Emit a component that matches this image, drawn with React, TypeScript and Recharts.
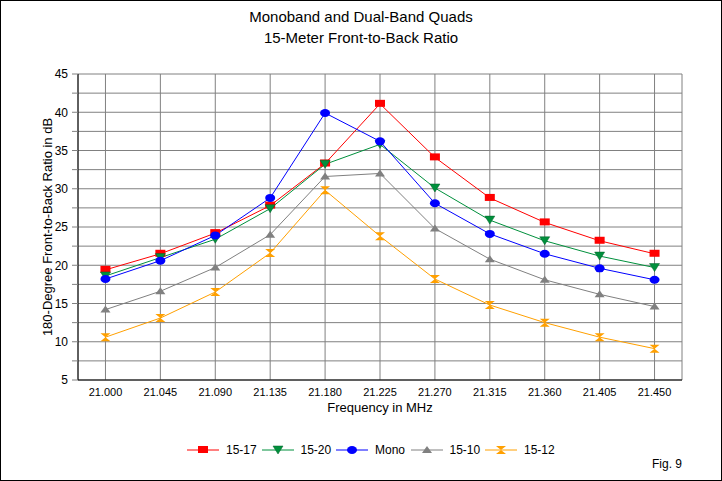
import React from 'react';
import { ComposedChart, Line, XAxis, YAxis, CartesianGrid } from 'recharts';

const frequencies = ['21.000', '21.045', '21.090', '21.135', '21.180', '21.225', '21.270', '21.315', '21.360', '21.405', '21.450'];

const quad1517 = [19.4, 21.5, 24.2, 27.8, 33.3, 41.1, 34.1, 28.8, 25.6, 23.2, 21.5];
const quad1520 = [18.6, 21.0, 23.4, 27.4, 33.2, 35.8, 30.1, 25.9, 23.2, 21.2, 19.7];
const mono = [18.2, 20.6, 23.9, 28.8, 39.9, 36.2, 28.1, 24.1, 21.5, 19.6, 18.1];
const quad1510 = [14.2, 16.6, 19.7, 24.0, 31.6, 32.0, 24.8, 20.8, 18.1, 16.2, 14.6];
const quad1512 = [10.6, 13.1, 16.5, 21.6, 29.8, 23.8, 18.2, 14.8, 12.5, 10.6, 9.1];

const yTicks = [5, 7.5, 10, 12.5, 15, 17.5, 20, 22.5, 25, 27.5, 30, 32.5, 35, 37.5, 40, 42.5, 45];

const series = [
  { key: 'q1517', name: '15-17', values: quad1517, color: '#ff0000', shape: 'square' },
  { key: 'q1520', name: '15-20', values: quad1520, color: '#00903c', shape: 'down' },
  { key: 'mono', name: 'Mono', values: mono, color: '#0000ff', shape: 'circle' },
  { key: 'q1510', name: '15-10', values: quad1510, color: '#808080', shape: 'up' },
  { key: 'q1512', name: '15-12', values: quad1512, color: '#ffa000', shape: 'hourglass' },
];

const data = frequencies.map((freq, i) => {
  const row: any = { freq };
  series.forEach((s) => { row[s.key] = s.values[i]; });
  return row;
});

const FONT = '"Liberation Sans", Arial, sans-serif';

const Marker = ({ cx, cy, shape, color }: any) => {
  if (cx == null || cy == null) return null;
  switch (shape) {
    case 'square':
      return <rect x={cx - 5} y={cy - 4} width={10} height={7} fill={color} />;
    case 'down':
      return <polygon points={`${cx - 5},${cy - 4} ${cx + 5},${cy - 4} ${cx},${cy + 4}`} fill={color} stroke="#006028" strokeWidth={0.5} />;
    case 'circle':
      return <ellipse cx={cx} cy={cy} rx={5} ry={4} fill={color} />;
    case 'up':
      return <polygon points={`${cx - 5},${cy + 3} ${cx + 5},${cy + 3} ${cx},${cy - 4}`} fill={color} />;
    default:
      return (
        <polygon
          points={`${cx - 5},${cy - 4} ${cx + 5},${cy - 4} ${cx},${cy} ${cx + 5},${cy + 4} ${cx - 5},${cy + 4} ${cx},${cy}`}
          fill={color}
        />
      );
  }
};

export default function App() {
  return (
    <div style={{ position: 'absolute', left: 0, top: 0, width: 722, height: 481, background: '#fff', fontFamily: FONT }}>
      <ComposedChart width={722} height={481} data={data} margin={{ top: 74, right: 40, bottom: 0, left: 0 }}>
        <CartesianGrid stroke="#808080" />
        <XAxis
          dataKey="freq"
          scale="band"
          height={101}
          tickLine={false}
          tickSize={6}
          tickMargin={2}
          axisLine={{ stroke: '#000' }}
          tick={{ fill: '#000', fontSize: 11, fontFamily: FONT }}
          interval={0}
        />
        <XAxis xAxisId="top" dataKey="freq" scale="band" orientation="top" height={0} tick={false} tickLine={false} axisLine={{ stroke: '#000' }} />
        <YAxis
          width={78}
          domain={[5, 45]}
          ticks={yTicks}
          interval={0}
          tickFormatter={(v: number) => (v % 5 === 0 ? String(v) : '')}
          tickSize={6}
          tickMargin={4}
          tickLine={{ stroke: '#808080' }}
          axisLine={{ stroke: '#000' }}
          tick={{ fill: '#000', fontSize: 12, fontFamily: FONT }}
        />
        <YAxis yAxisId="right" orientation="right" width={0} domain={[5, 45]} tick={false} tickLine={false} axisLine={{ stroke: '#000' }} />
        {series.map((s) => (
          <Line
            key={s.key}
            dataKey={s.key}
            name={s.name}
            type="linear"
            stroke={s.color}
            strokeWidth={1}
            isAnimationActive={false}
            dot={(p: any) => <Marker key={`${s.key}-${p.index}`} cx={p.cx} cy={p.cy} shape={s.shape} color={s.color} />}
            activeDot={false}
          />
        ))}
      </ComposedChart>

      <div style={{ position: 'absolute', left: 0, top: 6, width: 722, textAlign: 'center', fontSize: 15, lineHeight: '21px' }}>
        <div>Monoband and Dual-Band Quads</div>
        <div>15-Meter Front-to-Back Ratio</div>
      </div>

      <div
        style={{
          position: 'absolute', left: 47, top: 227, fontSize: 13, whiteSpace: 'nowrap',
          transform: 'translate(-50%, -50%) rotate(-90deg)',
        }}
      >
        180-Degree Front-to-Back Ratio in dB
      </div>

      <div style={{ position: 'absolute', left: 380, top: 407, fontSize: 13, whiteSpace: 'nowrap', transform: 'translate(-50%, -50%)' }}>
        Frequency in MHz
      </div>

      {series.map((s, i) => (
        <div key={s.key} style={{ position: 'absolute', left: 187 + i * 74.5, top: 443, height: 14, display: 'flex', alignItems: 'center', fontSize: 12 }}>
          <svg width={32} height={14}>
            <line x1={0} y1={7} x2={32} y2={7} stroke={s.color} strokeWidth={1} />
            <Marker cx={16} cy={7} shape={s.shape} color={s.color} />
          </svg>
          <span style={{ marginLeft: 7 }}>{s.name}</span>
        </div>
      ))}

      <div style={{ position: 'absolute', left: 652, top: 457, fontSize: 12 }}>Fig. 9</div>

      <div style={{ position: 'absolute', left: 0, top: 0, width: 722, height: 481, border: '1px solid #000', boxSizing: 'border-box', pointerEvents: 'none' }} />
    </div>
  );
}
